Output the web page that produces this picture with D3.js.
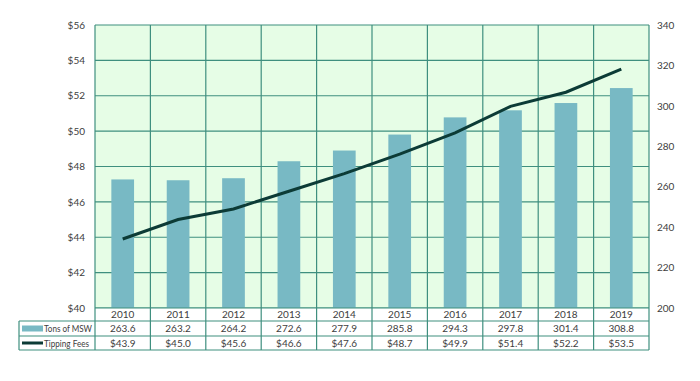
<!DOCTYPE html>
<html><head><meta charset="utf-8">
<script src="https://cdn.jsdelivr.net/npm/d3@7"></script>
<style>body{margin:0;background:#fff}svg{display:block}text{font-family:Lato,"Open Sans",sans-serif;fill:#404040}</style>
</head><body>
<script>
const years = ["2010","2011","2012","2013","2014","2015","2016","2017","2018","2019"];
const tons = [263.6,263.2,264.2,272.6,277.9,285.8,294.3,297.8,301.4,308.8];
const fees = [43.9,45.0,45.6,46.6,47.6,48.7,49.9,51.4,52.2,53.5];
const leftTicks = [40,42,44,46,48,50,52,54,56];
const rightTicks = [200,220,240,260,280,300,320,340];
const seriesNames = ["Tons of MSW","Tipping Fees"];

const W=700,H=381;
const L=95,R=649,T=25,B=308;
const gridColor="#3f8f7f";
const svg=d3.select("body").append("svg").attr("width",W).attr("height",H);
const x=d3.scaleBand().domain(years).range([L,R]);
const yL=d3.scaleLinear().domain([40,56]).range([B,T]);
const yR=d3.scaleLinear().domain([200,340]).range([B,T]);

svg.append("rect").attr("x",L).attr("y",T).attr("width",R-L).attr("height",B-T).attr("fill","#e6fde6");

// horizontal grid
svg.append("g").selectAll("line").data(leftTicks).join("line")
 .attr("x1",L).attr("x2",R).attr("y1",d=>yL(d)).attr("y2",d=>yL(d))
 .attr("stroke",gridColor).attr("stroke-width",1.2);
// vertical grid
const xs=years.map(d=>x(d)).concat([R]);
svg.append("g").selectAll("line").data(xs).join("line")
 .attr("x1",d=>d).attr("x2",d=>d).attr("y1",T).attr("y2",B)
 .attr("stroke",gridColor).attr("stroke-width",1.2);

// bars
const bw=x.bandwidth()*0.41;
svg.append("g").selectAll("rect").data(years).join("rect")
 .attr("x",(d)=>x(d)+x.bandwidth()/2-bw/2).attr("width",bw)
 .attr("y",(d,i)=>yR(tons[i])).attr("height",(d,i)=>B-yR(tons[i]))
 .attr("fill","#78b9c4");

// line
svg.append("path").datum(fees)
 .attr("d",d3.line().x((d,i)=>x(years[i])+x.bandwidth()/2).y(d=>yL(d)))
 .attr("fill","none").attr("stroke","#0c3b36").attr("stroke-width",3);

// axes
const axL=svg.append("g").attr("transform",`translate(${L},0)`)
 .call(d3.axisLeft(yL).tickValues(leftTicks).tickFormat(d=>"$"+d).tickSize(0).tickPadding(10));
axL.select(".domain").remove();
const axR=svg.append("g").attr("transform",`translate(${R},0)`)
 .call(d3.axisRight(yR).tickValues(rightTicks).tickSize(0).tickPadding(8));
axR.select(".domain").remove();
svg.selectAll(".tick text").attr("font-family","Lato,'Open Sans',sans-serif").attr("font-size",10).attr("fill","#404040");

// data table
const rows=[B,321,336,350];
const tbl=svg.append("g");
const LL=19;
tbl.append("rect").attr("x",L).attr("y",rows[0]).attr("width",R-L).attr("height",rows[1]-rows[0]).attr("fill","#fff");
tbl.append("rect").attr("x",LL).attr("y",rows[1]).attr("width",R-LL).attr("height",rows[3]-rows[1]).attr("fill","#fff");
tbl.append("line").attr("x1",L).attr("x2",R).attr("y1",rows[0]).attr("y2",rows[0]).attr("stroke",gridColor).attr("stroke-width",1.2);
[rows[1],rows[2],rows[3]].forEach(yy=>{
 tbl.append("line").attr("x1",LL).attr("x2",R).attr("y1",yy).attr("y2",yy).attr("stroke",gridColor).attr("stroke-width",1.2);
});
tbl.append("line").attr("x1",LL).attr("x2",LL).attr("y1",rows[1]).attr("y2",rows[3]).attr("stroke",gridColor).attr("stroke-width",1.2);
tbl.selectAll(".v").data(xs).join("line").attr("class","v")
 .attr("x1",d=>d).attr("x2",d=>d).attr("y1",rows[0]).attr("y2",rows[3]).attr("stroke",gridColor).attr("stroke-width",1.2);
const cx=d=>x(d)+x.bandwidth()/2;
tbl.selectAll(".yr").data(years).join("text").attr("class","yr")
 .attr("x",cx).attr("y",(rows[0]+rows[1])/2+3.5).attr("text-anchor","middle").attr("font-size",10).text(d=>d);
tbl.selectAll(".tn").data(years).join("text").attr("class","tn")
 .attr("x",cx).attr("y",(rows[1]+rows[2])/2+3.5).attr("text-anchor","middle").attr("font-size",10).text((d,i)=>tons[i].toFixed(1));
tbl.selectAll(".fe").data(years).join("text").attr("class","fe")
 .attr("x",cx).attr("y",(rows[2]+rows[3])/2+3.5).attr("text-anchor","middle").attr("font-size",10).text((d,i)=>"$"+fees[i].toFixed(1));
// legend keys
tbl.append("rect").attr("x",22).attr("y",(rows[1]+rows[2])/2-3).attr("width",21).attr("height",6).attr("fill","#78b9c4");
tbl.append("line").attr("x1",22).attr("x2",43).attr("y1",(rows[2]+rows[3])/2).attr("y2",(rows[2]+rows[3])/2).attr("stroke","#0c3b36").attr("stroke-width",3);
tbl.append("text").attr("x",44).attr("y",(rows[1]+rows[2])/2+3.5).attr("font-size",10)
 .attr("textLength",48).attr("lengthAdjust","spacingAndGlyphs").text(seriesNames[0]);
tbl.append("text").attr("x",44).attr("y",(rows[2]+rows[3])/2+3.5).attr("font-size",10)
 .attr("textLength",45).attr("lengthAdjust","spacingAndGlyphs").text(seriesNames[1]);
</script>
</body></html>
